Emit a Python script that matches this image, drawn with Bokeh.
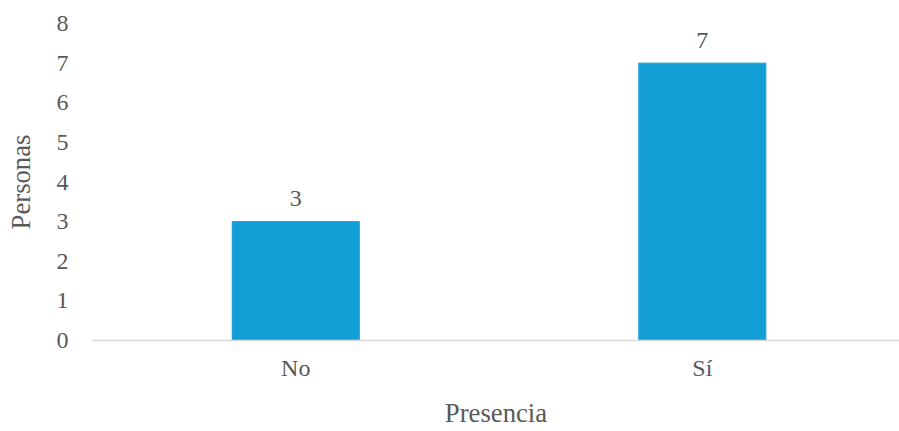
from bokeh.plotting import figure
from bokeh.models import ColumnDataSource, Range1d, FixedTicker
from bokeh.core.properties import value
from bokeh.embed import file_html
from bokeh.resources import INLINE

categories = ["No", "Sí"]
personas = [3, 7]
y_ticks = [0, 1, 2, 3, 4, 5, 6, 7, 8]
x_title = "Presencia"
y_title = "Personas"

xs = list(range(len(categories)))
src = ColumnDataSource(dict(x=xs, top=personas, lbl=[str(v) for v in personas]))

FONT = "Liberation Serif"
GREY = "#595959"
TICK_FS = "24px"
TITLE_FS = "26.7px"

p = figure(width=899, height=431, output_backend="svg", toolbar_location=None,
           x_range=Range1d(-0.5, 1.485), y_range=Range1d(0, 8))
p.min_border_left = 92
p.min_border_right = 0
p.min_border_top = 23
p.min_border_bottom = 91
p.outline_line_color = None
p.grid.visible = False

p.vbar(x="x", top="top", width=0.3125, source=src, color="#139ED6")
p.text(x="x", y="top", text="lbl", source=src, text_align="center",
       text_baseline="alphabetic", y_offset=-23, text_font=value(FONT),
       text_font_size=TICK_FS, text_color=GREY)

xa = p.xaxis[0]
xa.ticker = FixedTicker(ticks=xs)
xa.major_label_overrides = {i: c for i, c in enumerate(categories)}
xa.axis_label = x_title
xa.axis_line_color = "#D9D9D9"
xa.axis_line_width = 1.5
xa.major_tick_line_color = None
xa.minor_tick_line_color = None
xa.major_label_standoff = 8
xa.axis_label_standoff = 14

ya = p.yaxis[0]
ya.ticker = FixedTicker(ticks=y_ticks)
ya.axis_label = y_title
ya.axis_line_color = None
ya.major_tick_line_color = None
ya.minor_tick_line_color = None
ya.major_label_standoff = 18
ya.axis_label_standoff = 18

for ax in (xa, ya):
    ax.major_label_text_font = FONT
    ax.major_label_text_font_size = TICK_FS
    ax.major_label_text_color = GREY
    ax.axis_label_text_font = FONT
    ax.axis_label_text_font_size = TITLE_FS
    ax.axis_label_text_font_style = "normal"
    ax.axis_label_text_color = GREY

open("out.html", "w").write(file_html(p, INLINE))
